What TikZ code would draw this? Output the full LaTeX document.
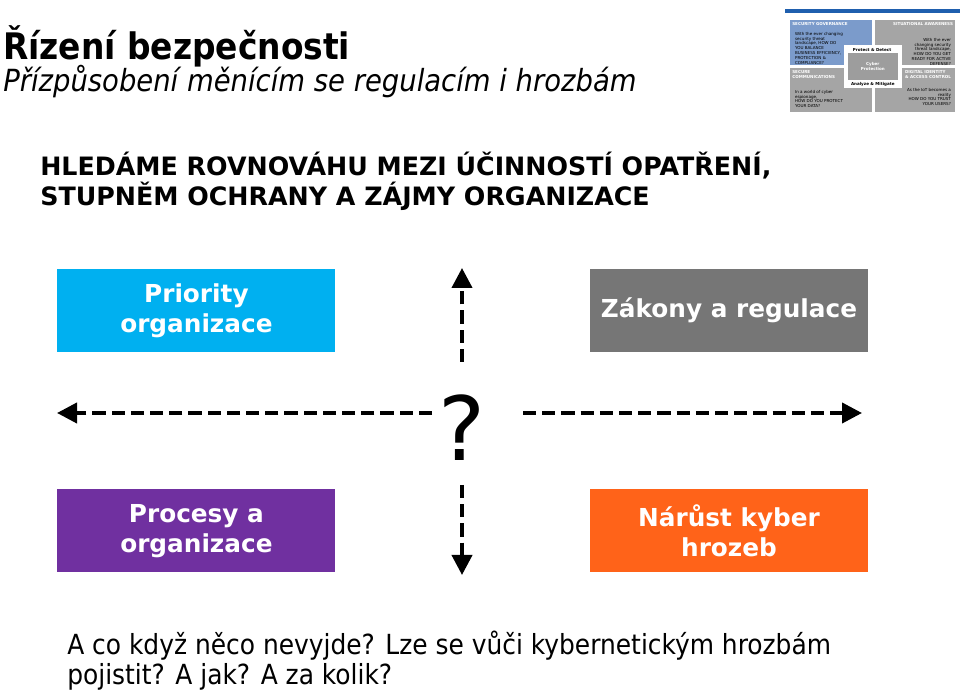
\documentclass[tikz,border=0pt]{standalone}
\usepackage{fontspec}
\setmainfont{DejaVu Sans}
\newfontfamily\narrowfont{DejaVu Sans Condensed}
\usetikzlibrary{arrows.meta}
\definecolor{PrioBlue}{HTML}{00B0F0}
\definecolor{LawGray}{HTML}{767676}
\definecolor{ProcPurple}{HTML}{7030A0}
\definecolor{ThreatOrange}{HTML}{FF6319}
\definecolor{ThumbBlue}{HTML}{7B9BCB}
\definecolor{ThumbGray}{HTML}{A5A5A5}
\definecolor{ThumbBar}{HTML}{1F5FAE}

\begin{document}
\begin{tikzpicture}[x=1cm,y=1cm,
  tile/.style={minimum width=6.95cm,minimum height=2.07cm,inner sep=0pt,align=center,
    text=white,font=\bfseries\fontsize{17.6}{21.3}\selectfont},
  dasharrow/.style={line width=2.8pt,dash pattern=on 0.33cm off 0.15cm,
    -{Triangle[length=0.5cm,width=0.5cm]}},
  thumbtxt/.style={inner sep=0pt,font=\fontsize{2.9}{3.4}\selectfont},
  thumbhead/.style={thumbtxt,text=white,font=\bfseries\fontsize{2.9}{3.4}\selectfont}]
\path[use as bounding box] (0,0) rectangle (24,17.3);
\fill[white] (0,0) rectangle (24,17.3);

% headings
\node[anchor=base west,inner sep=0pt,font=\narrowfont\bfseries\fontsize{26}{30}\selectfont] (title) at (0.075,15.8) {Řízení bezpečnosti};
\node[anchor=base west,inner sep=0pt,font=\narrowfont\itshape\fontsize{21.7}{24}\selectfont] (subtitle) at (0.075,15.0) {Přízpůsobení měnícím se regulacím i hrozbám};
\node[anchor=base west,inner sep=0pt,font=\bfseries\fontsize{18}{20}\selectfont] (head1) at (1.0,12.9) {HLEDÁME ROVNOVÁHU MEZI ÚČINNOSTÍ OPATŘENÍ,};
\node[anchor=base west,inner sep=0pt,font=\bfseries\fontsize{18}{20}\selectfont] (head2) at (1.0,12.15) {STUPNĚM OCHRANY A ZÁJMY ORGANIZACE};

% thumbnail
\fill[ThumbBar] (19.625,16.97) rectangle (24,17.07);
\fill[ThumbBlue] (19.75,15.675) rectangle (21.8,16.8);
\fill[ThumbGray] (21.875,15.675) rectangle (23.875,16.8);
\fill[ThumbGray] (19.75,14.5) rectangle (21.8,15.6);
\fill[ThumbGray] (21.875,14.5) rectangle (23.875,15.6);
\fill[white] (21.1,15.1) rectangle (22.55,16.175);
\fill[ThumbGray!95!black] (21.2,15.3) rectangle (22.45,15.975);
\node[thumbhead,anchor=north west] (tgov) at (19.8,16.75) {SECURITY GOVERNANCE};
\node[thumbtxt,anchor=north west,align=left] (tgovtxt) at (19.87,16.5) {With the ever changing\\security threat\\landscape, HOW DO\\YOU BALANCE\\BUSINESS EFFICIENCY,\\PROTECTION \&\\COMPLIANCE?};
\node[thumbhead,anchor=north east] (tsit) at (23.83,16.75) {SITUATIONAL AWARENESS};
\node[thumbtxt,anchor=north east,align=right] (tsittxt) at (23.78,16.35) {With the ever\\changing security\\threat landscape,\\HOW DO YOU GET\\READY FOR ACTIVE\\DEFENSE?};
\node[thumbhead,anchor=north west,align=left] (tcom) at (19.8,15.55) {SECURE\\COMMUNICATIONS};
\node[thumbtxt,anchor=north west,align=left] (tcomtxt) at (19.87,15.05) {In a world of cyber\\espionage,\\HOW DO YOU PROTECT\\YOUR DATA?};
\node[thumbhead,anchor=north west,align=left] (tid) at (22.62,15.55) {DIGITAL IDENTITY\\\& ACCESS CONTROL};
\node[thumbtxt,anchor=north east,align=right] (tidtxt) at (23.78,15.1) {As the IoT becomes a\\reality\\HOW DO YOU TRUST\\YOUR USERS?};
\node[thumbtxt,font=\bfseries\fontsize{2.9}{3.4}\selectfont] (tprot) at (21.8,16.05) {Protect \& Detect};
\node[thumbhead,align=center] (tcyber) at (21.82,15.64) {Cyber\\Protection};
\node[thumbtxt,font=\bfseries\fontsize{2.9}{3.4}\selectfont] (tanal) at (21.82,15.2) {Analyze \& Mitigate};

% quadrant boxes
\node[tile,fill=PrioBlue] (prio) at (4.91,9.54) {Priority\\organizace};
\node[tile,fill=LawGray] (laws) at (18.225,9.54) {Zákony a regulace};
\node[tile,fill=ProcPurple] (proc) at (4.91,4.03) {Procesy a\\organizace};
\node[tile,fill=ThreatOrange] (threat) at (18.225,4.03) {Nárůst kyber\\hrozeb};

% centre and arrows
\node[inner sep=0pt,font=\fontsize{63}{70}\selectfont] (q) at (11.55,6.61) {?};
\coordinate (leftTip) at (1.425,6.975);
\coordinate (rightTip) at (21.55,6.975);
\coordinate (upTip) at (11.55,10.6);
\coordinate (downTip) at (11.55,2.925);
\draw[dasharrow] ([shift={(-0.75,0.365)}]q.center) -- (leftTip);
\draw[dasharrow] ([shift={(1.525,0.365)}]q.center) -- (rightTip);
\draw[dasharrow] ([shift={(0,1.64)}]q.center) -- (upTip);
\draw[dasharrow] ([shift={(0,-1.435)}]q.center) -- (downTip);

% question at the bottom
\node[anchor=base west,inner sep=0pt,font=\narrowfont\fontsize{19.7}{24}\selectfont] (ask1) at (1.675,0.925) {A co když něco nevyjde? Lze se vůči kybernetickým hrozbám};
\node[anchor=base west,inner sep=0pt,font=\narrowfont\fontsize{19.7}{24}\selectfont] (ask2) at (1.675,0.175) {pojistit? A jak? A za kolik?};
\end{tikzpicture}
\end{document}
